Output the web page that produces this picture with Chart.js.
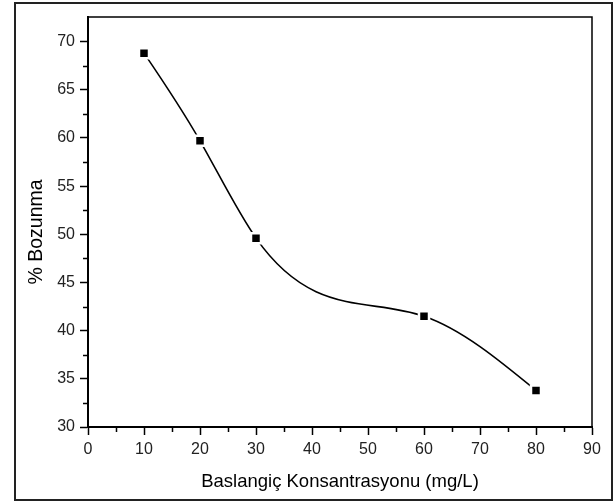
<!DOCTYPE html>
<html>
<head>
<meta charset="utf-8">
<script src="https://cdn.jsdelivr.net/npm/chart.js@4/dist/chart.umd.min.js"></script>
<style>
  html, body { margin: 0; padding: 0; background: #fff; }
  #wrap { position: relative; width: 614px; height: 502px; }
  #frame { position: absolute; left: 14px; top: 2px; width: 599px; height: 499px; box-sizing: border-box; border: 2px solid #222; pointer-events: none; }
  canvas { position: absolute; left: 0; top: 0; }
</style>
</head>
<body>
<div id="wrap">
  <canvas id="c" width="614" height="502"></canvas>
  <div id="frame"></div>
</div>
<script>
const concentrations = [10, 20, 30, 60, 80];
const degradation = [68.8, 59.7, 49.6, 41.5, 33.8];
const xTicksMajor = [0, 10, 20, 30, 40, 50, 60, 70, 80, 90];
const yTicksMajor = [30, 35, 40, 45, 50, 55, 60, 65, 70];
const xTitle = 'Baslangiç Konsantrasyonu (mg/L)';
const yTitle = '% Bozunma';

const FONT = "'Liberation Sans', Arial, sans-serif";

const isMajor = (v, list) => list.some(m => Math.abs(m - v) < 1e-6);

// Natural cubic spline slopes (value space) at each data point
function naturalSplineSlopes(xs, ys) {
  const n = xs.length;
  const h = [], d = [];
  for (let i = 0; i < n - 1; i++) { h.push(xs[i + 1] - xs[i]); d.push((ys[i + 1] - ys[i]) / h[i]); }
  const M = new Array(n).fill(0);
  const m = n - 2;
  if (m > 0) {
    const a = [], b = [], c = [], r = [];
    for (let i = 1; i <= m; i++) {
      a.push(h[i - 1]); b.push(2 * (h[i - 1] + h[i])); c.push(h[i]); r.push(6 * (d[i] - d[i - 1]));
    }
    for (let i = 1; i < m; i++) {
      const w = a[i] / b[i - 1];
      b[i] -= w * c[i - 1]; r[i] -= w * r[i - 1];
    }
    const sol = new Array(m);
    sol[m - 1] = r[m - 1] / b[m - 1];
    for (let i = m - 2; i >= 0; i--) sol[i] = (r[i] - c[i] * sol[i + 1]) / b[i];
    for (let i = 0; i < m; i++) M[i + 1] = sol[i];
  }
  const s = [];
  for (let i = 0; i < n - 1; i++) s.push(d[i] - h[i] * (2 * M[i] + M[i + 1]) / 6);
  s.push(d[n - 2] + h[n - 2] * (M[n - 2] + 2 * M[n - 1]) / 6);
  return s;
}

const splinePlugin = {
  id: 'naturalSpline',
  beforeDatasetDraw(chart, args) {
    const meta = args.meta;
    const line = meta.dataset;
    if (!line) return;
    if (typeof line.updateControlPoints === 'function') line.updateControlPoints(chart.chartArea, 'x');
    const xs = chart.scales.x, ys = chart.scales.y;
    const slopes = naturalSplineSlopes(concentrations, degradation);
    const kx = xs.getPixelForValue(1) - xs.getPixelForValue(0);
    const ky = ys.getPixelForValue(1) - ys.getPixelForValue(0);
    const pts = meta.data;
    for (let i = 0; i < pts.length; i++) {
      const p = pts[i];
      const mp = slopes[i] * ky / kx;
      if (i > 0) {
        const hp = (p.x - pts[i - 1].x) / 3;
        p.cp1x = p.x - hp; p.cp1y = p.y - mp * hp;
      } else { p.cp1x = p.x; p.cp1y = p.y; }
      if (i < pts.length - 1) {
        const hn = (pts[i + 1].x - p.x) / 3;
        p.cp2x = p.x + hn; p.cp2y = p.y + mp * hn;
      } else { p.cp2x = p.x; p.cp2y = p.y; }
    }
    line._path = undefined;
  }
};

const frameAndMinor = {
  id: 'frameAndMinor',
  afterDraw(chart) {
    const ctx = chart.ctx;
    const a = chart.chartArea;
    const xs = chart.scales.x, ys = chart.scales.y;
    ctx.save();
    ctx.strokeStyle = '#000';
    ctx.lineWidth = 1.5;
    ctx.beginPath();
    ctx.moveTo(a.left, a.top); ctx.lineTo(a.right, a.top); ctx.lineTo(a.right, a.bottom);
    ctx.stroke();
    ctx.beginPath();
    xs.ticks.forEach(t => {
      if (!isMajor(t.value, xTicksMajor)) {
        const px = Math.round(xs.getPixelForValue(t.value)) + 0.5;
        ctx.moveTo(px, a.bottom); ctx.lineTo(px, a.bottom + 5);
      }
    });
    ys.ticks.forEach(t => {
      if (!isMajor(t.value, yTicksMajor) && t.value < 71) {
        const py = Math.round(ys.getPixelForValue(t.value)) + 0.5;
        ctx.moveTo(a.left, py); ctx.lineTo(a.left - 5, py);
      }
    });
    ctx.stroke();
    // y axis title (slightly below centre, as in the original)
    ctx.translate(37, (a.top + a.bottom) / 2 + 10);
    ctx.rotate(-Math.PI / 2);
    ctx.fillStyle = '#000';
    ctx.font = "19.5px " + FONT;
    ctx.textAlign = 'center';
    ctx.textBaseline = 'middle';
    ctx.fillText(yTitle, 0, 0);
    ctx.restore();
  }
};

new Chart(document.getElementById('c'), {
  type: 'line',
  data: {
    datasets: [{
      data: concentrations.map((x, i) => ({ x, y: degradation[i] })),
      borderColor: '#000',
      borderWidth: 1.6,
      cubicInterpolationMode: 'monotone',
      pointStyle: 'rect',
      pointRadius: 7.07,
      pointBorderWidth: 2.5,
      pointBorderColor: '#fff',
      pointBackgroundColor: '#000',
      fill: false
    }]
  },
  options: {
    responsive: false,
    animation: false,
    events: [],
    layout: { padding: { top: 17, right: 22, left: 0, bottom: 0 } },
    plugins: { legend: { display: false }, tooltip: { enabled: false } },
    scales: {
      x: {
        type: 'linear',
        min: 0, max: 90,
        afterFit(s) { s.height = 75; },
        border: { display: true, color: '#000', width: 2 },
        grid: {
          drawOnChartArea: false,
          drawTicks: true,
          tickLength: 8,
          tickWidth: 1.5,
          tickColor: (c) => isMajor(c.tick.value, xTicksMajor) ? '#000' : 'rgba(0,0,0,0)'
        },
        ticks: {
          stepSize: 5,
          autoSkip: false,
          maxRotation: 0,
          padding: 5,
          color: '#222',
          font: { family: FONT, size: 16 },
          callback: (v) => isMajor(v, xTicksMajor) ? String(v) : ''
        },
        title: {
          display: true,
          text: xTitle,
          color: '#000',
          font: { family: FONT, size: 18.5 },
          padding: { top: 0, bottom: 9 }
        }
      },
      y: {
        type: 'linear',
        min: 30, max: 72.55,
        afterFit(s) { s.width = 88; },
        border: { display: true, color: '#000', width: 2 },
        grid: {
          drawOnChartArea: false,
          drawTicks: true,
          tickLength: 8,
          tickWidth: 1.5,
          tickColor: (c) => isMajor(c.tick.value, yTicksMajor) ? '#000' : 'rgba(0,0,0,0)'
        },
        ticks: {
          stepSize: 2.5,
          autoSkip: false,
          padding: 5,
          color: '#222',
          font: { family: FONT, size: 16 },
          callback: (v) => isMajor(v, yTicksMajor) ? String(v) : ''
        },
        title: { display: false }
      }
    }
  },
  plugins: [splinePlugin, frameAndMinor]
});
</script>
</body>
</html>
